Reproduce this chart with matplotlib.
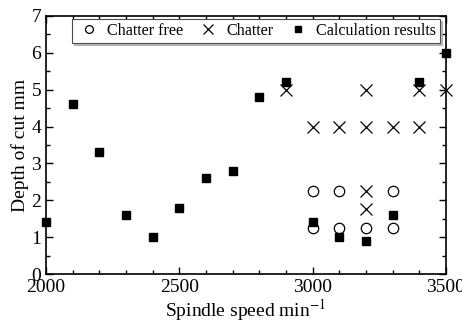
import matplotlib.pyplot as plt
from matplotlib.ticker import MultipleLocator

plt.rcParams['font.family'] = ['Liberation Serif', 'DejaVu Serif']
plt.rcParams['mathtext.fontset'] = 'stix'

calc_speed = [2000, 2100, 2200, 2300, 2400, 2500, 2600, 2700, 2800, 2900,
              3000, 3100, 3200, 3300, 3400, 3500]
calc_depth = [1.4, 4.6, 3.3, 1.6, 1.0, 1.8, 2.6, 2.8, 4.8, 5.2,
              1.4, 1.0, 0.9, 1.6, 5.2, 6.0]

free_speed = [3000, 3000, 3100, 3100, 3200, 3300, 3300]
free_depth = [2.25, 1.25, 2.25, 1.25, 1.25, 2.25, 1.25]

chat_speed = [2900, 3000, 3100, 3200, 3200, 3200, 3200, 3300, 3400, 3400, 3500]
chat_depth = [5.0, 4.0, 4.0, 5.0, 4.0, 2.25, 1.75, 4.0, 5.0, 4.0, 5.0]

fig = plt.figure(figsize=(4.62, 3.26), dpi=100)
ax = fig.add_axes([0.0996, 0.1595, 0.8654, 0.7915])

ax.plot(free_speed, free_depth, 'o', mfc='none', mec='black', ms=7.5, mew=0.9,
        clip_on=False, label='Chatter free')
ax.plot(chat_speed, chat_depth, 'x', color='black', ms=9, mew=0.9,
        clip_on=False, label='Chatter')
ax.plot(calc_speed, calc_depth, 's', color='black', ms=5.5,
        clip_on=False, label='Calculation results')

ax.set_xlim(2000, 3500)
ax.set_ylim(0, 7)
ax.xaxis.set_major_locator(MultipleLocator(500))
ax.xaxis.set_minor_locator(MultipleLocator(100))
ax.yaxis.set_major_locator(MultipleLocator(1))
ax.yaxis.set_minor_locator(MultipleLocator(0.5))
ax.tick_params(which='both', direction='in', top=True, right=True,
               labelsize=14, width=1)
ax.tick_params(which='major', length=5)
ax.tick_params(which='minor', length=3)
for s in ax.spines.values():
    s.set_linewidth(1.2)

ax.set_xlabel('Spindle speed min$^{-1}$', fontsize=14, labelpad=1)
ax.set_ylabel('Depth of cut mm', fontsize=14, labelpad=2)

leg = ax.legend(loc='upper left', bbox_to_anchor=(0.065, 0.99), ncol=3,
                fontsize=11.6, frameon=True, fancybox=False,
                shadow={'ox': 1.5, 'oy': -1.5, 'color': '0.5'},
                markerscale=0.75, handlelength=1.6, handletextpad=0.35,
                columnspacing=0.7, borderpad=0.25, borderaxespad=0.0)
leg.get_frame().set_edgecolor('0.3')
leg.get_frame().set_linewidth(0.8)

fig.savefig('out.png', dpi=100)
